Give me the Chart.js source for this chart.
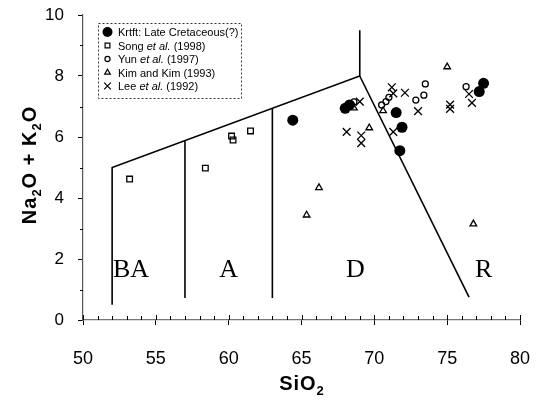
<!DOCTYPE html>
<html>
<head>
<meta charset="utf-8">
<script src="https://cdn.jsdelivr.net/npm/chart.js@4"></script>
<style>
  html, body { margin: 0; padding: 0; background: #fff; }
  #wrap { width: 538px; height: 400px; }
</style>
</head>
<body>
<div id="wrap"><canvas id="tas"></canvas></div>
<script>
// data (SiO2 vs Na2O+K2O)
var krtftX = [64.4, 68.0, 68.3, 71.5, 71.9, 71.75, 77.2, 77.5];
var krtftY = [6.55, 6.94, 7.05, 6.8, 6.32, 5.55, 7.49, 7.76];

var songX = [53.2, 58.4, 60.2, 60.3, 61.5];
var songY = [4.62, 4.98, 6.03, 5.9, 6.2];

var yunX = [68.6, 70.5, 70.8, 71.0, 72.85, 73.4, 73.5, 76.3];
var yunY = [7.15, 7.05, 7.16, 7.3, 7.21, 7.37, 7.74, 7.65];

var kimX = [65.35, 66.2, 68.6, 69.65, 70.6, 75.0, 76.8];
var kimY = [3.44, 4.34, 6.95, 6.3, 6.86, 8.3, 3.15];

var leeX = [68.1, 69.0, 69.1, 69.1, 71.2, 71.3, 71.3, 72.1, 73.0, 75.2, 75.2, 76.5, 76.7];
var leeY = [6.17, 7.16, 6.05, 5.8, 7.63, 7.43, 6.17, 7.45, 6.85, 7.06, 6.92, 7.41, 7.12];

// field boundaries
var outerX = [52, 52, 69, 69];
var outerY = [0.5, 5.0, 8.0, 9.5];
var rhyoX = [69, 76.5];
var rhyoY = [8.0, 0.75];
var andX = [57, 57];
var andY = [0.72, 5.88];
var daciteX = [63, 63];
var daciteY = [0.72, 6.94];

var fieldNames = ['BA', 'A', 'D', 'R'];
var fieldX = [53.3, 60.0, 68.7, 77.5];
var fieldY = [1.65, 1.65, 1.65, 1.65];

var legendNames = [
  ['Krtft: Late Cretaceous(?)'],
  ['Song ', 'et al.', ' (1998)'],
  ['Yun ', 'et al.', ' (1997)'],
  ['Kim and Kim (1993)'],
  ['Lee ', 'et al.', ' (1992)']
];

function pts(xs, ys) {
  return xs.map(function (x, i) { return { x: x, y: ys[i] }; });
}

function lineSet(xs, ys) {
  return {
    type: 'line', data: pts(xs, ys), showLine: true, borderColor: '#000',
    borderWidth: 1.6, pointRadius: 0, fill: false, tension: 0
  };
}

var SANS = '"Liberation Sans", Arial, sans-serif';

var extras = {
  id: 'extras',
  afterDraw: function (chart) {
    var ctx = chart.ctx;
    var xs = chart.scales.x, ys = chart.scales.y;
    var area = chart.chartArea;
    ctx.save();
    ctx.strokeStyle = '#000';
    ctx.lineWidth = 1;
    // minor ticks
    var v;
    for (v = 51; v < 80; v++) {
      if (v % 5 === 0) continue;
      var px = Math.round(xs.getPixelForValue(v)) + 0.5;
      ctx.beginPath(); ctx.moveTo(px, area.bottom); ctx.lineTo(px, area.bottom - 4); ctx.stroke();
    }
    for (v = 50; v <= 80; v += 5) {
      var px2 = Math.round(xs.getPixelForValue(v)) + 0.5;
      ctx.beginPath(); ctx.moveTo(px2, area.bottom - 5); ctx.lineTo(px2, area.bottom); ctx.stroke();
    }
    for (v = 1; v < 10; v += 2) {
      var py = Math.round(ys.getPixelForValue(v)) + 0.5;
      ctx.beginPath(); ctx.moveTo(area.left, py); ctx.lineTo(area.left - 3, py); ctx.stroke();
    }

    // field names
    ctx.fillStyle = '#000';
    ctx.font = '26px "Liberation Serif", "Times New Roman", serif';
    ctx.textAlign = 'center';
    ctx.textBaseline = 'middle';
    fieldNames.forEach(function (n, i) {
      ctx.fillText(n, xs.getPixelForValue(fieldX[i]), ys.getPixelForValue(fieldY[i]));
    });

    // axis titles with subscripts
    ctx.textBaseline = 'alphabetic';
    ctx.textAlign = 'left';
    ctx.letterSpacing = '1px';
    function setF(sub) {
      ctx.font = sub ? 'bold 13px ' + SANS : 'bold 20px ' + SANS;
    }
    function measureParts(parts) {
      var w = 0;
      parts.forEach(function (p) { setF(p[1]); w += ctx.measureText(p[0]).width; });
      return w;
    }
    function subText(parts, x, y) {
      var cx = x;
      parts.forEach(function (p) {
        setF(p[1]);
        ctx.fillText(p[0], cx, y + (p[1] ? 5 : 0));
        cx += ctx.measureText(p[0]).width;
      });
    }
    var xt = [['SiO', false], ['2', true]];
    subText(xt, 302 - measureParts(xt) / 2, 390);
    var yt = [['Na', false], ['2', true], ['O + K', false], ['2', true], ['O', false]];
    var wy = measureParts(yt);
    ctx.save();
    ctx.translate(36, 165);
    ctx.rotate(-Math.PI / 2);
    subText(yt, -wy / 2, 0);
    ctx.restore();
    ctx.letterSpacing = '0px';

    // legend box
    var bx = 98, by = 23, bw = 143, bh = 75;
    ctx.setLineDash([2, 2]);
    ctx.strokeStyle = '#333';
    ctx.lineWidth = 1;
    ctx.strokeRect(bx + 0.5, by + 0.5, bw, bh);
    ctx.setLineDash([]);
    var sets = chart.data.datasets.filter(function (d) { return d.legendRow !== undefined; });
    sets.forEach(function (d, i) {
      var cy = by + 9 + i * 13.5;
      var filled = d.pointBackgroundColor === '#000';
      ctx.strokeStyle = '#000';
      ctx.fillStyle = filled ? '#000' : 'rgba(0,0,0,0)';
      ctx.lineWidth = 1.2;
      Chart.helpers.drawPoint(ctx, {
        pointStyle: d.pointStyle, radius: filled ? 5 : d.pointRadius * 0.85,
        borderWidth: filled ? 0 : 1.2, rotation: 0
      }, 107.5, cy);
      var tx = 118;
      ctx.fillStyle = '#000';
      ctx.textBaseline = 'middle';
      legendNames[i].forEach(function (s) {
        ctx.font = (s === 'et al.' ? 'italic ' : '') + '11px ' + SANS;
        ctx.fillText(s, tx, cy + 1);
        tx += ctx.measureText(s).width;
      });
    });
    ctx.restore();
  }
};

new Chart(document.getElementById('tas'), {
  type: 'scatter',
  data: {
    datasets: [
      lineSet(outerX, outerY),
      lineSet(rhyoX, rhyoY),
      lineSet(andX, andY),
      lineSet(daciteX, daciteY),
      { legendRow: 0, data: pts(krtftX, krtftY), pointStyle: 'circle', pointRadius: 5.5,
        pointBackgroundColor: '#000', pointBorderColor: '#000', pointBorderWidth: 0 },
      { legendRow: 1, data: pts(songX, songY), pointStyle: 'rect', pointRadius: 4,
        pointBackgroundColor: 'rgba(0,0,0,0)', pointBorderColor: '#000', pointBorderWidth: 1.3 },
      { legendRow: 2, data: pts(yunX, yunY), pointStyle: 'circle', pointRadius: 3,
        pointBackgroundColor: 'rgba(0,0,0,0)', pointBorderColor: '#000', pointBorderWidth: 1.3 },
      { legendRow: 3, data: pts(kimX, kimY), pointStyle: 'triangle', pointRadius: 3.8,
        pointBackgroundColor: 'rgba(0,0,0,0)', pointBorderColor: '#000', pointBorderWidth: 1.3 },
      { legendRow: 4, data: pts(leeX, leeY), pointStyle: 'crossRot', pointRadius: 5.5,
        pointBackgroundColor: 'rgba(0,0,0,0)', pointBorderColor: '#000', pointBorderWidth: 1.3 }
    ]
  },
  options: {
    responsive: true,
    maintainAspectRatio: false,
    animation: false,
    layout: { padding: { top: 15, right: 18, left: 0, bottom: 0 } },
    plugins: { legend: { display: false }, tooltip: { enabled: false } },
    scales: {
      x: {
        type: 'linear', min: 50, max: 80,
        border: { display: true, color: '#777', width: 1.2 },
        grid: { drawOnChartArea: false, color: '#000', tickLength: 5 },
        ticks: { stepSize: 5, padding: 23, color: '#000', font: { size: 18, family: SANS } },
        afterFit: function (s) { s.height = 80; s.paddingLeft = 0; s.paddingRight = 0; }
      },
      y: {
        type: 'linear', min: 0, max: 10,
        border: { display: true, color: '#555', width: 1.2 },
        grid: { drawOnChartArea: false, color: '#000', tickLength: 5 },
        ticks: { stepSize: 2, padding: 14, color: '#000', font: { size: 17, family: SANS } },
        afterFit: function (s) { s.width = 83; s.paddingTop = 0; s.paddingBottom = 0; }
      }
    }
  },
  plugins: [extras]
});
</script>
</body>
</html>
